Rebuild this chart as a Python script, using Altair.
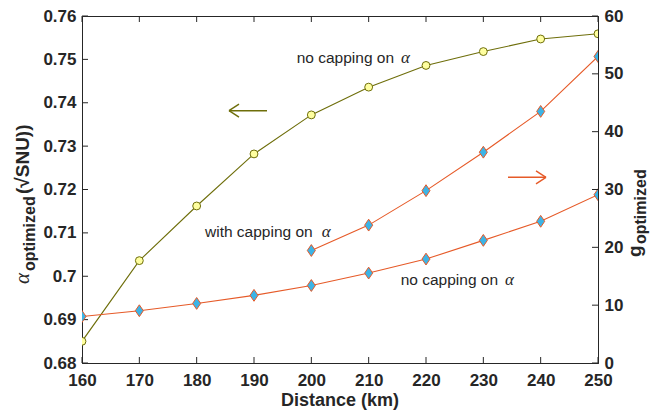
import altair as alt
import pandas as pd

# ---- data ----
distance = [160, 170, 180, 190, 200, 210, 220, 230, 240, 250]
alpha_opt = [0.685, 0.7036, 0.7162, 0.7282, 0.7372, 0.7436, 0.7486, 0.7518, 0.7547, 0.7559]
g_no_cap = [8.05, 9.04, 10.3, 11.7, 13.4, 15.55, 17.97, 21.2, 24.5, 29.1]
cap_distance = [200, 210, 220, 230, 240, 250]
g_cap = [19.45, 23.84, 29.8, 36.45, 43.5, 53.0]

x_ticks = [160, 170, 180, 190, 200, 210, 220, 230, 240, 250]
alpha_ticks = [0.68, 0.69, 0.70, 0.71, 0.72, 0.73, 0.74, 0.75, 0.76]
g_ticks = [0, 10, 20, 30, 40, 50, 60]

# ---- styles ----
W, H = 516, 347
OLIVE = "#6e6e0a"
OLIVE_FILL = "#ffffa0"
ORANGE = "#e65a28"
BLUE = "#3cb4e6"
INK = "#262626"
SANS = "Liberation Sans"
TICK = 6

df_alpha = pd.DataFrame({"d": distance, "a": alpha_opt})
df_g = pd.DataFrame({"d": distance, "g": g_no_cap})
df_gc = pd.DataFrame({"d": cap_distance, "g": g_cap})
df_xt = pd.DataFrame({"d": x_ticks})
df_at = pd.DataFrame({"a": alpha_ticks})
df_gt = pd.DataFrame({"g": g_ticks})

x_scale = alt.Scale(domain=[160, 250], nice=False, zero=False)
x_axis = alt.Axis(values=x_ticks, format="d", title=None, grid=False, ticks=False,
                  tickSize=0, labelPadding=22, labelBaseline="alphabetic",
                  labelFont=SANS, labelFontWeight="bold", labelFontSize=17,
                  labelColor=INK, domainColor=INK, labelFlush=False, labelOverlap=False)
a_scale = alt.Scale(domain=[0.68, 0.76], nice=False, zero=False)
a_axis = alt.Axis(values=alpha_ticks, format="~g", orient="left", title=None, grid=False,
                  ticks=False, tickSize=0, labelPadding=6, labelFont=SANS,
                  labelFontWeight="bold", labelFontSize=17, labelColor=INK,
                  domainColor=INK, labelFlush=False, labelOverlap=False)
g_scale = alt.Scale(domain=[0, 60], nice=False, zero=False)
g_axis = alt.Axis(values=g_ticks, format="d", orient="right", title=None, grid=False,
                  ticks=False, tickSize=0, labelPadding=6, labelFont=SANS,
                  labelFontWeight="bold", labelFontSize=17, labelColor=INK,
                  domainColor=INK, labelFlush=False, labelOverlap=False)

X = alt.X("d:Q", scale=x_scale, axis=x_axis)
YA = alt.Y("a:Q", scale=a_scale, axis=a_axis)
YG = alt.Y("g:Q", scale=g_scale, axis=g_axis)

diamond = "M0,-1L0.68,0L0,1L-0.68,0Z"

# ---- left group (alpha) ----
olive_line = alt.Chart(df_alpha).mark_line(color=OLIVE, strokeWidth=1.1, clip=True).encode(x=X, y=YA)
olive_pts = alt.Chart(df_alpha).mark_point(shape="circle", filled=True, fill=OLIVE_FILL,
                                            stroke=OLIVE, strokeWidth=1, size=62, opacity=1,
                                            clip=True).encode(x=X, y=YA)
xt_bottom = alt.Chart(df_xt).mark_rule(color=INK, strokeWidth=1).encode(
    x=X, y=alt.value(H), y2=alt.value(H - TICK))
xt_top = alt.Chart(df_xt).mark_rule(color=INK, strokeWidth=1).encode(
    x=X, y=alt.value(0), y2=alt.value(TICK))
at_left = alt.Chart(df_at).mark_rule(color=INK, strokeWidth=1).encode(
    y=YA, x=alt.value(0), x2=alt.value(TICK))

left = alt.layer(olive_line, olive_pts, xt_bottom, xt_top, at_left)

# ---- right group (g) ----
g_line = alt.Chart(df_g).mark_line(color=ORANGE, strokeWidth=1.1, clip=True).encode(x=X, y=YG)
gc_line = alt.Chart(df_gc).mark_line(color=ORANGE, strokeWidth=1.1, clip=True).encode(x=X, y=YG)
g_pts = alt.Chart(df_g).mark_point(shape=diamond, filled=True, fill=BLUE, stroke=ORANGE,
                                   strokeWidth=1, size=140, opacity=1, clip=True).encode(x=X, y=YG)
gc_pts = alt.Chart(df_gc).mark_point(shape=diamond, filled=True, fill=BLUE, stroke=ORANGE,
                                     strokeWidth=1, size=140, opacity=1, clip=True).encode(x=X, y=YG)
gt_right = alt.Chart(df_gt).mark_rule(color=INK, strokeWidth=1).encode(
    y=YG, x=alt.value(W - TICK), x2=alt.value(W))

layers_right = [g_line, gc_line, g_pts, gc_pts, gt_right]


def label(text, px, py, font=SANS, size=15.5, weight="normal", style="normal",
          angle=0, align="left", baseline="middle", color=INK):
    kw = dict(align=align, baseline=baseline, font=font, fontSize=size,
              fontWeight=weight, fontStyle=style, color=color)
    if angle:
        kw["angle"] = angle
    return alt.Chart(pd.DataFrame({"t": [text]})).mark_text(**kw).encode(
        x=alt.value(px), y=alt.value(py), text="t:N")


def seg(x1, y1, x2, y2, color):
    return alt.Chart(pd.DataFrame({"k": [0]})).mark_rule(color=color, strokeWidth=1.4).encode(
        x=alt.value(x1), y=alt.value(y1), x2=alt.value(x2), y2=alt.value(y2))


annotations = [
    label("no capping on", 214.7, 42.3),
    label("α", 319, 42.3, font="Liberation Serif", size=17, style="italic"),
    label("with capping on", 123, 215.7),
    label("α", 239.7, 215.7, font="Liberation Serif", size=17, style="italic"),
    label("no capping on", 318.7, 264),
    label("α", 423, 264, font="Liberation Serif", size=17, style="italic"),
    # arrows
    seg(147, 94.7, 185, 94.7, OLIVE),
    seg(147, 94.7, 157, 88.2, OLIVE),
    seg(147, 94.7, 157, 101.2, OLIVE),
    seg(426, 161.3, 464, 161.3, ORANGE),
    seg(464, 161.3, 454, 154.8, ORANGE),
    seg(464, 161.3, 454, 167.8, ORANGE),
    # axis titles
    label("Distance (km)", W / 2, 390, size=18, weight="bold", align="center",
          baseline="alphabetic"),
    label("α", -53, 268, font="Liberation Serif", size=21, style="italic",
          angle=270, baseline="alphabetic"),
    label("optimized", -47, 255, size=16, weight="bold", angle=270, baseline="alphabetic"),
    label("(√SNU))", -53, 178, size=19, weight="bold", angle=270, baseline="alphabetic"),
    label("g", 559, 241, size=19, weight="bold", angle=270, baseline="alphabetic"),
    label("optimized", 564, 228, size=16, weight="bold", angle=270, baseline="alphabetic"),
]

right = alt.layer(*layers_right, *annotations)

chart = alt.layer(left, right).resolve_scale(y="independent").properties(
    width=W, height=H,
    padding={"left": 74, "top": 8, "right": 52, "bottom": 47},
    autosize=alt.AutoSizeParams(type="none"),
    background="white",
).configure_view(stroke=INK, strokeWidth=1)

chart.save("out.html", embed_options={"renderer": "svg", "actions": False})
